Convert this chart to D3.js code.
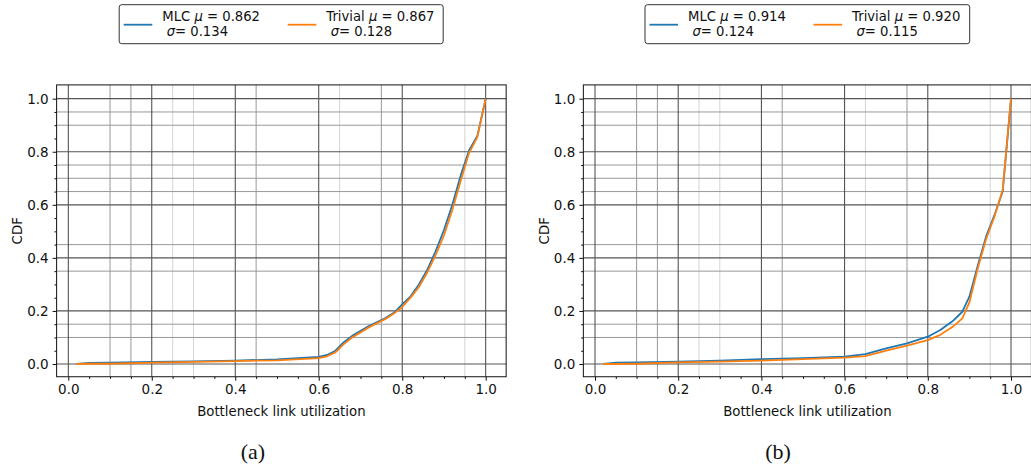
<!DOCTYPE html>
<html>
<head>
<meta charset="utf-8">
<script src="https://cdn.jsdelivr.net/npm/d3@7"></script>
<style>
  body { margin: 0; background: #fff; }
  svg { display: block; font-family: "DejaVu Sans", sans-serif; }
</style>
</head>
<body>
<svg id="chart" width="1031" height="465"></svg>
<script>
// ---- data ----
const utilA = [0.02, 0.05, 0.1, 0.2, 0.3, 0.4, 0.5, 0.6, 0.62, 0.64, 0.66, 0.68, 0.72, 0.76, 0.78, 0.8, 0.82, 0.84, 0.86, 0.88, 0.9, 0.92, 0.94, 0.96, 0.98, 1.0];
const mlcA     = [0, 0.004, 0.005, 0.008, 0.010, 0.013, 0.017, 0.027, 0.034, 0.050, 0.082, 0.106, 0.143, 0.173, 0.193, 0.225, 0.255, 0.300, 0.355, 0.425, 0.505, 0.600, 0.710, 0.805, 0.860, 1.0];
const trivialA = [0, 0.001, 0.001, 0.005, 0.008, 0.011, 0.014, 0.022, 0.029, 0.044, 0.075, 0.100, 0.138, 0.170, 0.190, 0.215, 0.250, 0.290, 0.345, 0.410, 0.485, 0.580, 0.690, 0.795, 0.855, 1.0];

const utilB = [0.02, 0.05, 0.1, 0.2, 0.3, 0.4, 0.5, 0.6, 0.65, 0.7, 0.75, 0.8, 0.83, 0.86, 0.883, 0.9, 0.92, 0.94, 0.96, 0.98, 1.0];
const mlcB     = [0, 0.005, 0.006, 0.009, 0.013, 0.018, 0.022, 0.028, 0.037, 0.059, 0.078, 0.103, 0.128, 0.162, 0.197, 0.254, 0.370, 0.480, 0.560, 0.650, 1.0];
const trivialB = [0, 0.0, 0.001, 0.006, 0.009, 0.013, 0.018, 0.024, 0.030, 0.050, 0.069, 0.090, 0.110, 0.140, 0.172, 0.232, 0.360, 0.470, 0.555, 0.656, 1.0];

const legendA = [["MLC", "0.862", "0.134"], ["Trivial", "0.867", "0.128"]];
const legendB = [["MLC", "0.914", "0.124"], ["Trivial", "0.920", "0.115"]];
const majorTicks = [0, 0.2, 0.4, 0.6, 0.8, 1.0];
const minorTicks = [0.05, 0.1, 0.15, 0.25, 0.3, 0.35, 0.45, 0.5, 0.55, 0.65, 0.7, 0.75, 0.85, 0.9, 0.95];
// minor grid lines that are visible in the picture
const xMinorGrid = [[0.1, "mid"], [0.15, "mid"], [0.25, "light"], [0.3, "light"], [0.45, "mid"], [0.65, "light"], [0.75, "mid"], [0.95, "light"]];
const yMinorGrid = [0.95, 0.9, 0.75, 0.7, 0.65, 0.45, 0.35, 0.15, 0.1];
const colors = ["#1f77b4", "#ff7f0e"];

const svg = d3.select("#chart");

function panel(opts) {
  const { x0, x1, legend, util, mlc, trivial, legendBox, label, labelX } = opts;
  const x = d3.scaleLinear().domain([0, 1]).range([x0, x1]);
  const y = d3.scaleLinear().domain([0, 1]).range([364, 98.7]);
  const left = x(-0.028), right = x(1.049), top = y(1.052), bottom = y(-0.048);
  const g = svg.append("g");

  g.append("defs").append("clipPath").attr("id", "clip" + label)
    .append("rect").attr("x", left).attr("y", top).attr("width", right - left).attr("height", bottom - top);

  const grid = g.append("g").attr("clip-path", `url(#clip${label})`);
  grid.selectAll(".mx").data(xMinorGrid).join("line")
    .attr("x1", d => x(d[0])).attr("x2", d => x(d[0])).attr("y1", top).attr("y2", bottom)
    .attr("stroke", d => d[1] === "mid" ? "#999" : "#d4d4d4").attr("stroke-width", 1);
  grid.selectAll(".my").data(yMinorGrid).join("line")
    .attr("x1", left).attr("x2", right).attr("y1", d => y(d)).attr("y2", d => y(d))
    .attr("stroke", "#999").attr("stroke-width", 1);
  grid.selectAll(".Mx").data(majorTicks).join("line")
    .attr("x1", d => x(d)).attr("x2", d => x(d)).attr("y1", top).attr("y2", bottom)
    .attr("stroke", "#444").attr("stroke-width", 1);
  grid.selectAll(".My").data(majorTicks).join("line")
    .attr("x1", left).attr("x2", right).attr("y1", d => y(d)).attr("y2", d => y(d))
    .attr("stroke", "#555").attr("stroke-width", 1.2);

  const line = d3.line().x(d => x(d[0])).y(d => y(d[1]));
  [mlc, trivial].forEach((ser, i) => {
    grid.append("path").datum(util.map((u, k) => [u, ser[k]]))
      .attr("d", line).attr("fill", "none").attr("stroke", colors[i])
      .attr("stroke-width", 1.8).attr("stroke-linejoin", "round");
  });

  g.append("rect").attr("x", left).attr("y", top).attr("width", right - left).attr("height", bottom - top)
    .attr("fill", "none").attr("stroke", "#111").attr("stroke-width", 1);

  const xs = d3.scaleLinear().domain([-0.028, 1.049]).range([left, right]);
  const ys = d3.scaleLinear().domain([-0.048, 1.052]).range([bottom, top]);
  const fmt = d3.format(".1f");
  g.append("g").attr("transform", `translate(0,${bottom})`)
    .call(d3.axisBottom(xs).tickValues(majorTicks).tickFormat(fmt).tickSize(4).tickPadding(4));
  g.append("g").attr("transform", `translate(0,${bottom})`)
    .call(d3.axisBottom(xs).tickValues(minorTicks).tickFormat("").tickSize(2.2));
  g.append("g").attr("transform", `translate(${left},0)`)
    .call(d3.axisLeft(ys).tickValues(majorTicks).tickFormat(fmt).tickSize(4).tickPadding(4));
  g.append("g").attr("transform", `translate(${left},0)`)
    .call(d3.axisLeft(ys).tickValues(minorTicks).tickFormat("").tickSize(2.2));
  g.selectAll(".domain").remove();
  g.selectAll(".tick line").attr("stroke", "#111");
  g.selectAll(".tick text").attr("font-family", "DejaVu Sans").attr("font-size", 13.5).attr("fill", "#111");

  g.append("text").attr("x", (left + right) / 2).attr("y", 416)
    .attr("text-anchor", "middle").attr("font-size", 13.3).attr("fill", "#111")
    .text("Bottleneck link utilization");
  g.append("text").attr("transform", `translate(${left - 39},${(top + bottom) / 2}) rotate(-90)`)
    .attr("text-anchor", "middle").attr("dy", "0.35em").attr("font-size", 13.3).attr("fill", "#111")
    .text("CDF");

  const lb = legendBox;
  g.append("rect").attr("x", lb.x).attr("y", 4.7).attr("width", lb.w).attr("height", 39)
    .attr("rx", 2.5).attr("fill", "#fff").attr("stroke", "#333").attr("stroke-width", 1);
  legend.forEach((it, i) => {
    const lx = lb.x + 4.5 + i * 164;
    g.append("line").attr("x1", lx).attr("x2", lx + 28.6).attr("y1", 24.7).attr("y2", 24.7)
      .attr("stroke", colors[i]).attr("stroke-width", 1.8);
    const t1 = g.append("text").attr("x", lx + 38.6).attr("y", 20.7).attr("font-size", 13.2).attr("fill", "#111");
    t1.append("tspan").text(it[0] + " ");
    t1.append("tspan").attr("font-style", "italic").text("\u03bc");
    t1.append("tspan").text(" = " + it[1]);
    const t2 = g.append("text").attr("x", lx + 43).attr("y", 35.8).attr("font-size", 13.2).attr("fill", "#111");
    t2.append("tspan").attr("font-style", "italic").text("\u03c3");
    t2.append("tspan").text("= " + it[2]);
  });

  g.append("text").attr("x", labelX).attr("y", 459).attr("text-anchor", "middle")
    .attr("font-family", "Liberation Serif, serif").attr("font-size", 22).attr("fill", "#111")
    .text("(" + label + ")");
}

panel({ x0: 68.3, x1: 485.7, legend: legendA, util: utilA, mlc: mlcA, trivial: trivialA,
        legendBox: { x: 119.2, w: 324 }, label: "a", labelX: 253 });
panel({ x0: 595, x1: 1011, legend: legendB, util: utilB, mlc: mlcB, trivial: trivialB,
        legendBox: { x: 645, w: 324.7 }, label: "b", labelX: 778 });
</script>
</body>
</html>
